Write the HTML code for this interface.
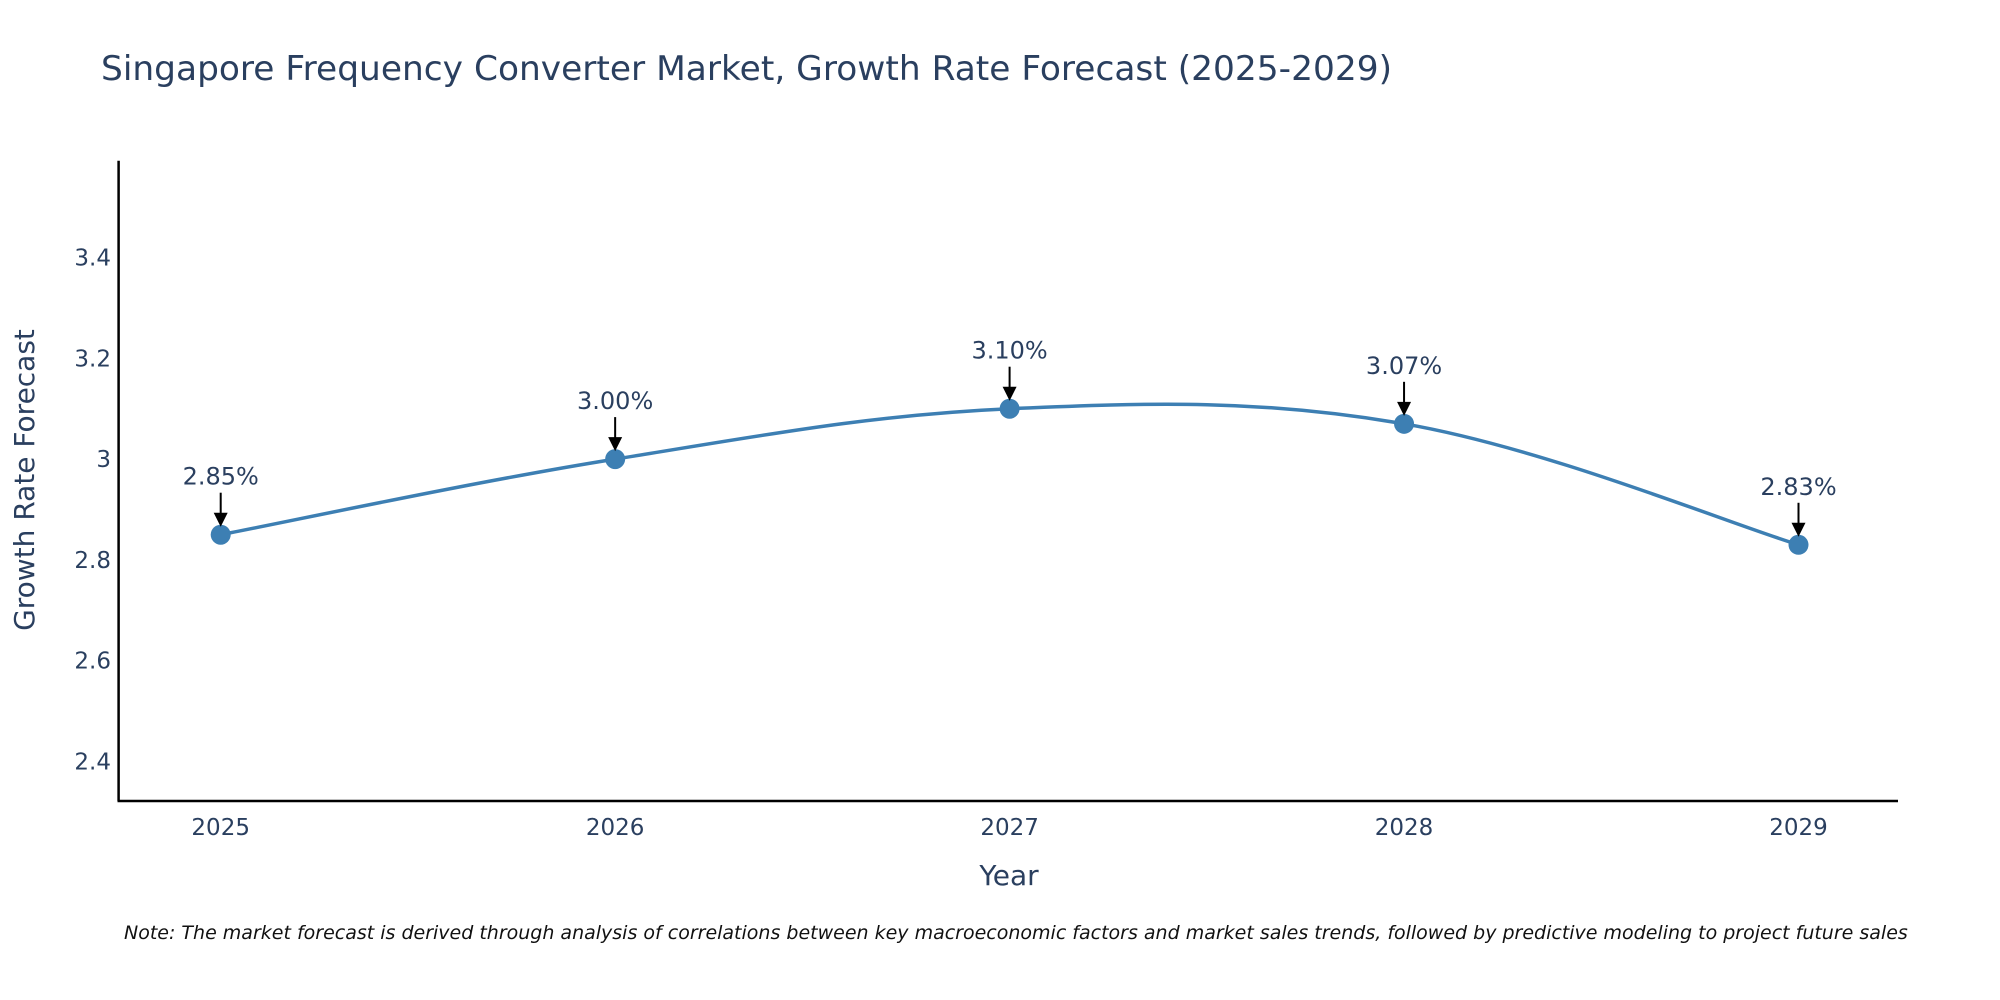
<!DOCTYPE html>
<html><head><meta charset="utf-8"><style>
html,body{margin:0;padding:0;background:#fff;overflow:hidden;}
svg{display:block;font-family:"DejaVu Sans","Liberation Sans",sans-serif;}
</style></head><body>
<svg id="chart" width="2000" height="1000" viewBox="0 0 2000 1000">
<text x="101" y="80" font-size="34" fill="#2a3f5f" textLength="1291" lengthAdjust="spacingAndGlyphs">Singapore Frequency Converter Market, Growth Rate Forecast (2025-2029)</text>
<g id="yticks"></g>
<g id="xticks"></g>
<line x1="118.6" y1="160.7" x2="118.6" y2="801" stroke="#000" stroke-width="2.5"/>
<line x1="117.5" y1="801" x2="1898" y2="801" stroke="#000" stroke-width="2.5"/>
<text transform="translate(34,480) rotate(-90)" text-anchor="middle" font-size="28" fill="#2a3f5f">Growth Rate Forecast</text>
<text x="1009" y="885" text-anchor="middle" font-size="28" fill="#2a3f5f">Year</text>
<g id="series"></g>
<g id="annots"></g>
<text x="124" y="939" font-size="19" font-style="italic" fill="#111">Note: The market forecast is derived through analysis of correlations between key macroeconomic factors and market sales trends, followed by predictive modeling to project future sales</text>
</svg>
<script>
const categories = ["2025","2026","2027","2028","2029"];
const values = [2.85, 3.00, 3.10, 3.07, 2.83];
const labels = ["2.85%","3.00%","3.10%","3.07%","2.83%"];
const yTicks = [2.4, 2.6, 2.8, 3.0, 3.2, 3.4];
const yTickLabels = ["2.4","2.6","2.8","3","3.2","3.4"];

const NS = "http://www.w3.org/2000/svg";
function xPos(i){ return 220.7 + i * (1798.5 - 220.7) / (categories.length - 1); }
function yPos(v){ return 761.5 - (v - 2.4) * 504; }
function mk(tag, attrs, parent){ const e = document.createElementNS(NS, tag); for (const k in attrs) e.setAttribute(k, attrs[k]); parent.appendChild(e); return e; }

const yg = document.getElementById("yticks");
yTicks.forEach((t, i) => {
  const e = mk("text", {x: 111, y: yPos(t) + 8, "text-anchor": "end", "font-size": 23, fill: "#2a3f5f"}, yg);
  e.textContent = yTickLabels[i];
  
  
});
const xg = document.getElementById("xticks");
categories.forEach((c, i) => {
  const e = mk("text", {x: xPos(i), y: 835, "text-anchor": "middle", "font-size": 23, fill: "#2a3f5f"}, xg);
  e.textContent = c;
  
  
});

const pts = values.map((v, i) => [xPos(i), yPos(v)]);
let d = "M" + pts[0][0] + "," + pts[0][1];
const s = 0.18;
for (let i = 0; i < pts.length - 1; i++) {
  const p0 = pts[Math.max(0, i - 1)], p1 = pts[i], p2 = pts[i + 1], p3 = pts[Math.min(pts.length - 1, i + 2)];
  const c1 = [p1[0] + (p2[0] - p0[0]) * s, p1[1] + (p2[1] - p0[1]) * s];
  const c2 = [p2[0] - (p3[0] - p1[0]) * s, p2[1] - (p3[1] - p1[1]) * s];
  d += " C" + c1 + " " + c2 + " " + p2;
}
const sg = document.getElementById("series");
const line = mk("path", {d: d, fill: "none", stroke: "#3d7fb3", "stroke-width": 3.5}, sg);


pts.forEach((p, i) => {
  const c = mk("circle", {cx: p[0], cy: p[1], r: 10, fill: "#3d7fb3"}, sg);
  
  
});

const ag = document.getElementById("annots");
pts.forEach((p, i) => {
  const l = mk("line", {x1: p[0], y1: p[1] - 42, x2: p[0], y2: p[1] - 20, stroke: "#000", "stroke-width": 2}, ag);
  
  
  const h = mk("polygon", {points: (p[0]-7)+","+(p[1]-22)+" "+(p[0]+7)+","+(p[1]-22)+" "+p[0]+","+(p[1]-8), fill: "#000"}, ag);
  
  
  const t = mk("text", {x: p[0], y: p[1] - 50, "text-anchor": "middle", "font-size": 24, fill: "#2a3f5f"}, ag);
  t.textContent = labels[i];
  
  
});
</script>
</body></html>
